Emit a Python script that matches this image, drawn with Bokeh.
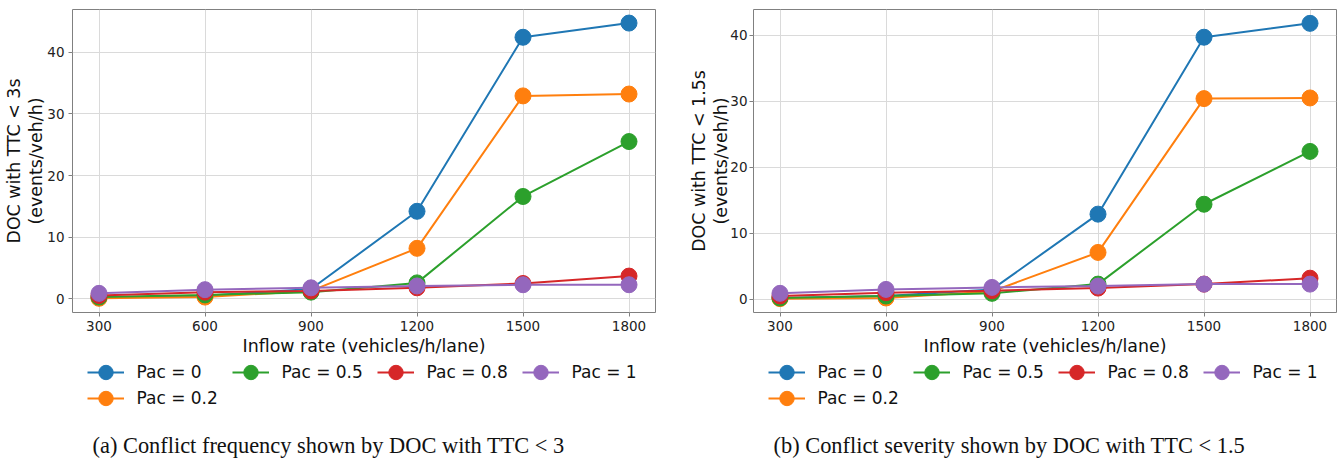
from bokeh.plotting import figure
from bokeh.models import Range1d, FixedTicker, Legend, LegendItem, Label
from bokeh.layouts import row, column
from bokeh.embed import file_html
from bokeh.resources import INLINE

inflow = [300, 600, 900, 1200, 1500, 1800]
pac_labels = ["Pac = 0", "Pac = 0.2", "Pac = 0.5", "Pac = 0.8", "Pac = 1"]
colors = ["#1f77b4", "#ff7f0e", "#2ca02c", "#d62728", "#9467bd"]
y_ticks = [0, 10, 20, 30, 40]

# (a) DOC with TTC < 3 s
ttc3_pac0 = [0.2, 0.5, 1.6, 14.2, 42.4, 44.7]
ttc3_pac02 = [0.1, 0.3, 1.3, 8.2, 32.9, 33.2]
ttc3_pac05 = [0.3, 0.65, 1.1, 2.6, 16.6, 25.5]
ttc3_pac08 = [0.55, 1.1, 1.3, 1.8, 2.5, 3.7]
ttc3_pac1 = [0.9, 1.5, 1.8, 2.1, 2.3, 2.3]

# (b) DOC with TTC < 1.5 s
ttc15_pac0 = [0.2, 0.5, 1.5, 12.9, 39.7, 41.8]
ttc15_pac02 = [0.1, 0.2, 1.2, 7.1, 30.4, 30.5]
ttc15_pac05 = [0.2, 0.5, 0.9, 2.3, 14.4, 22.4]
ttc15_pac08 = [0.5, 1.0, 1.3, 1.7, 2.3, 3.2]
ttc15_pac1 = [0.9, 1.5, 1.8, 2.0, 2.3, 2.3]

FONT = "DejaVu Sans"
LEG_H = 100


def add_series(p, series):
    items = []
    for vals, lab, col in zip(series, pac_labels, colors):
        lr = p.line(inflow, vals, line_color=col, line_width=2)
        sr = p.scatter(inflow, vals, size=16, fill_color=col, line_color=col)
        items.append(LegendItem(label=lab, renderers=[lr, sr]))
    return items


def make_legend(items, vy):
    return Legend(items=items, location=(14.5, vy), orientation="horizontal",
                  ncols=4, glyph_width=37, glyph_height=36, label_height=20,
                  label_width=95, label_standoff=13, spacing=0,
                  padding=0, margin=0, border_line_color=None,
                  background_fill_alpha=0,
                  label_text_font=FONT, label_text_font_size="17px",
                  label_text_color="#111111")


def make_panel(series, ylabel, caption, yr, width, mbl, mbr, ytick_so, ylab_so):
    p = figure(width=width, height=358, output_backend="svg", toolbar_location=None,
               title=None, x_range=Range1d(225, 1875), y_range=Range1d(*yr),
               min_border_left=mbl, min_border_right=mbr, min_border_top=9,
               min_border_bottom=46, background_fill_color="white",
               border_fill_color="white")
    p.outline_line_color = "#808080"
    p.outline_line_width = 1
    for g in (p.xgrid, p.ygrid):
        g.grid_line_color = "#dadada"
        g.grid_line_width = 1
    p.xaxis.ticker = FixedTicker(ticks=inflow)
    p.yaxis.ticker = FixedTicker(ticks=y_ticks)
    for ax in (p.xaxis, p.yaxis):
        ax.axis_line_color = None
        ax.major_tick_line_color = "#808080"
        ax.major_tick_out = 4
        ax.major_tick_in = 0
        ax.minor_tick_line_color = None
        ax.major_label_text_font = FONT
        ax.major_label_text_font_size = "13.5px"
        ax.major_label_text_color = "#222222"
        ax.axis_label_text_font = FONT
        ax.axis_label_text_font_size = "17.4px"
        ax.axis_label_text_font_style = "normal"
        ax.axis_label_text_color = "#111111"
    p.xaxis.axis_label = "Inflow rate (vehicles/h/lane)"
    p.xaxis.major_label_standoff = 4
    p.xaxis.axis_label_standoff = 2
    p.yaxis.axis_label = ylabel
    p.yaxis.axis_label_text_line_height = 1.1
    p.yaxis.major_label_standoff = ytick_so
    p.yaxis.axis_label_standoff = ylab_so
    add_series(p, series)

    # legend + caption strip under the plot (frame aligned with the plot's frame)
    q = figure(width=width, height=LEG_H, output_backend="svg", toolbar_location=None,
               title=None, x_range=Range1d(0, 1), y_range=Range1d(0, 1),
               x_axis_type=None, y_axis_type=None,
               min_border_left=mbl, min_border_right=mbr, min_border_top=0,
               min_border_bottom=0, background_fill_color="white",
               border_fill_color="white", outline_line_color=None)
    q.xgrid.visible = False
    q.ygrid.visible = False
    items = add_series(q, series)
    q.add_layout(make_legend([items[i] for i in (0, 2, 3, 4)], 68), "center")
    q.add_layout(make_legend([items[1]], 42), "center")
    cap = Label(x=20, y=13, x_units="screen", y_units="screen", text=caption,
                text_font="Liberation Serif", text_font_size="22.4px",
                text_baseline="middle", text_color="#111111")
    q.add_layout(cap)
    return column(p, q)


c1 = make_panel([ttc3_pac0, ttc3_pac02, ttc3_pac05, ttc3_pac08, ttc3_pac1],
                "DOC with TTC < 3s\n(events/veh/h)",
                "(a) Conflict frequency shown by DOC with TTC < 3",
                (-2.2, 46.9), 679, 72, 24, 4, -2)
c2 = make_panel([ttc15_pac0, ttc15_pac02, ttc15_pac05, ttc15_pac08, ttc15_pac1],
                "DOC with TTC < 1.5s\n(events/veh/h)",
                "(b) Conflict severity shown by DOC with TTC < 1.5",
                (-2.0, 43.9), 658, 74, 1, 2, -4)

layout = row(c1, c2)
open("out.html", "w").write(file_html(layout, INLINE))
